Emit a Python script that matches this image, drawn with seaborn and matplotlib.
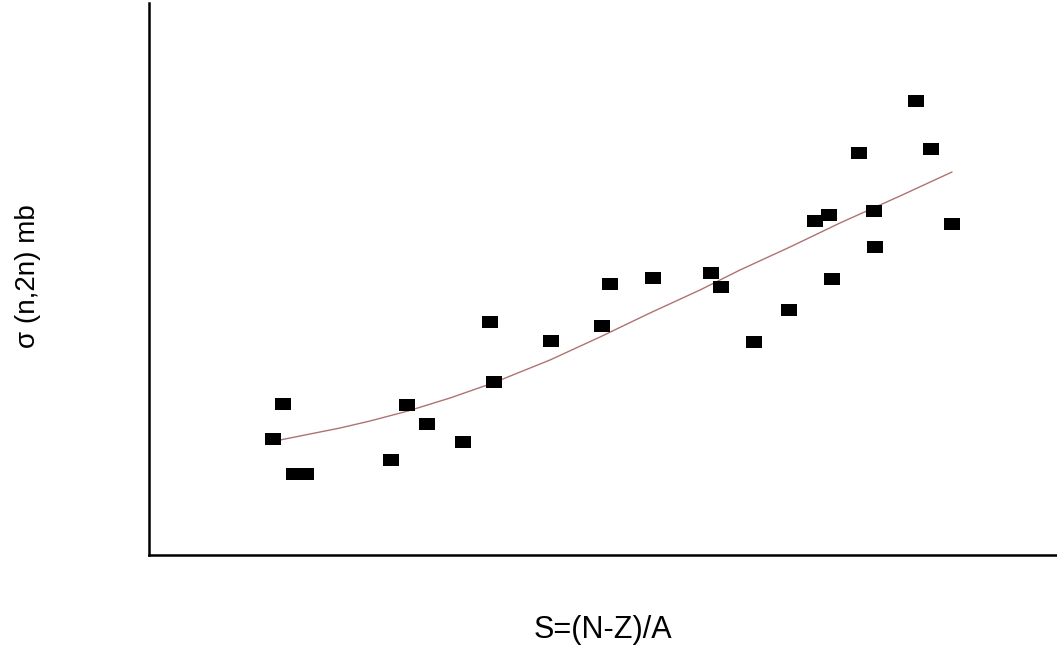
import matplotlib
matplotlib.use("Agg")
import matplotlib.pyplot as plt
import seaborn as sns
import pandas as pd

s_vals = [124, 134, 145, 157, 242, 258, 278, 314, 341, 345, 402, 453, 461,
          504, 562, 572, 605, 640, 666, 680, 683, 710, 725, 726, 767, 782, 803]
sigma_vals = [116, 151, 81, 81, 95, 150, 131, 113, 233, 173, 214, 229, 271,
              277, 282, 268, 213, 245, 334, 340, 276, 402, 344, 308, 454, 406, 331]

# fitted trend curve
fit_s = [131, 161, 191, 221, 259, 301, 344, 401, 451, 501, 551, 591, 641, 691, 751, 803]
fit_sigma = [115, 121, 127, 134, 144, 157, 172, 195, 218, 242, 265, 285, 308, 332, 359, 383]

pts = pd.DataFrame({"S": s_vals, "sigma": sigma_vals})
fit = pd.DataFrame({"S": fit_s, "sigma": fit_sigma})

sns.set_style("white")
plt.rcParams["font.family"] = ["Liberation Sans", "DejaVu Sans"]
plt.rcParams["text.color"] = "black"

fig = plt.figure(figsize=(10.57, 6.48), dpi=100)
ax = fig.add_axes([149 / 1057, 93 / 648, 1 - 149 / 1057, 552 / 648])

sns.lineplot(data=fit, x="S", y="sigma", ax=ax, color="#b07272", linewidth=1.0)
box = [(-1.33, -1), (1.33, -1), (1.33, 1), (-1.33, 1)]
sns.scatterplot(data=pts, x="S", y="sigma", ax=ax, marker=box, s=140,
                color="black", linewidth=0, zorder=3)

ax.set_xlim(0, 908)
ax.set_ylim(0, 552)
ax.set_xticks([])
ax.set_yticks([])
ax.set_xlabel("")
ax.set_ylabel("")
for side in ["top", "right"]:
    ax.spines[side].set_visible(False)
for side in ["left", "bottom"]:
    ax.spines[side].set_color("black")
    ax.spines[side].set_linewidth(1.8)

fig.text(603 / 1057, 1 - 630 / 648, "S=(N-Z)/A", fontsize=22,
         ha="center", va="center", color="black")
fig.text(28 / 1057, 1 - 276 / 648, "σ (n,2n) mb", fontsize=20,
         rotation=90, ha="center", va="center", color="black")

fig.savefig("out.png", dpi=100)
